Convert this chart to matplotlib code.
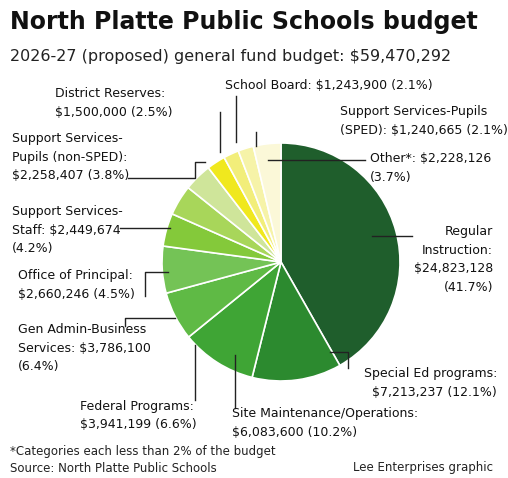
import matplotlib
matplotlib.use("Agg")
import matplotlib.pyplot as plt

# budget categories, clockwise from 12 o'clock
categories = ["Regular Instruction", "Special Ed programs", "Site Maintenance/Operations",
              "Federal Programs", "Gen Admin-Business Services", "Office of Principal",
              "Support Services-Staff", "Support Services-Pupils (non-SPED)",
              "District Reserves", "School Board", "Support Services-Pupils (SPED)", "Other*"]
amounts = [24823128, 7213237, 6083600, 3941199, 3786100, 2660246,
           2449674, 2258407, 1500000, 1243900, 1240665, 2228126]
colors = ["#1f5e2c", "#2c8a2f", "#3fa535", "#5fba45", "#74c356", "#84c93a",
          "#a8d65a", "#cfe59a", "#f0e81e", "#f2ee7a", "#f6f3a8", "#fbf8d8"]

# label text and where it sits (pixels, top of text block)
labels = [
    ("Regular\nInstruction:\n$24,823,128\n(41.7%)", 493, 225, "right"),
    ("Special Ed programs:\n$7,213,237 (12.1%)", 497, 367, "right"),
    ("Site Maintenance/Operations:\n$6,083,600 (10.2%)", 232, 407, "left"),
    ("Federal Programs:\n$3,941,199 (6.6%)", 80, 400, "left"),
    ("Gen Admin-Business\nServices: $3,786,100\n(6.4%)", 18, 323, "left"),
    ("Office of Principal:\n$2,660,246 (4.5%)", 18, 269, "left"),
    ("Support Services-\nStaff: $2,449,674\n(4.2%)", 12, 205, "left"),
    ("Support Services-\nPupils (non-SPED):\n$2,258,407 (3.8%)", 12, 132, "left"),
    ("District Reserves:\n$1,500,000 (2.5%)", 55, 87, "left"),
    ("School Board: $1,243,900 (2.1%)", 225, 79, "left"),
    ("Support Services-Pupils\n(SPED): $1,240,665 (2.1%)", 340, 105, "left"),
    ("Other*: $2,228,126\n(3.7%)", 370, 152, "left"),
]
leaders = [
    [(372, 236), (412, 236)],
    [(330, 352), (348, 352), (348, 368)],
    [(235, 355), (235, 408)],
    [(195, 345), (195, 400)],
    [(175, 318), (125, 318), (125, 326)],
    [(168, 272), (145, 272), (145, 296)],
    [(170, 228), (120, 228)],
    [(205, 162), (195, 162), (195, 178), (128, 178)],
    [(220, 112), (220, 152)],
    [(236, 96), (236, 142)],
    [(256, 132), (256, 146)],
    [(268, 160), (365, 160)],
]

fig = plt.figure(figsize=(5.08, 4.78), dpi=100)
ax = fig.add_axes([0, 0, 1, 1])

# y axis is flipped below, so counterclock + start at -90 reads clockwise from top
ax.pie(amounts, colors=colors, startangle=-90, counterclock=True,
       center=(281, 262), radius=119, frame=True,
       wedgeprops=dict(edgecolor="white", linewidth=1.2))
ax.set_xlim(0, 508)
ax.set_ylim(478, 0)
ax.set_aspect("equal")
ax.axis("off")

for pts in leaders:
    xs, ys = zip(*pts)
    ax.plot(xs, ys, color="#222222", lw=1)

for txt, x, y, ha in labels:
    ax.text(x, y, txt, ha=ha, va="top", fontsize=9, linespacing=1.55,
            color="#111111")

ax.text(10, 22, "North Platte Public Schools budget", fontsize=17,
        fontweight="bold", va="center", color="#111111")
ax.text(10, 56, "2026-27 (proposed) general fund budget: $59,470,292",
        fontsize=11.5, va="center", color="#222222")
ax.text(10, 452, "*Categories each less than 2% of the budget", fontsize=8.5,
        va="center", color="#222222")
ax.text(10, 468, "Source: North Platte Public Schools", fontsize=8.5,
        va="center", color="#222222")
ax.text(493, 468, "Lee Enterprises graphic", fontsize=8.5, ha="right",
        va="center", color="#222222")

fig.savefig("out.png", dpi=100, facecolor="white")
